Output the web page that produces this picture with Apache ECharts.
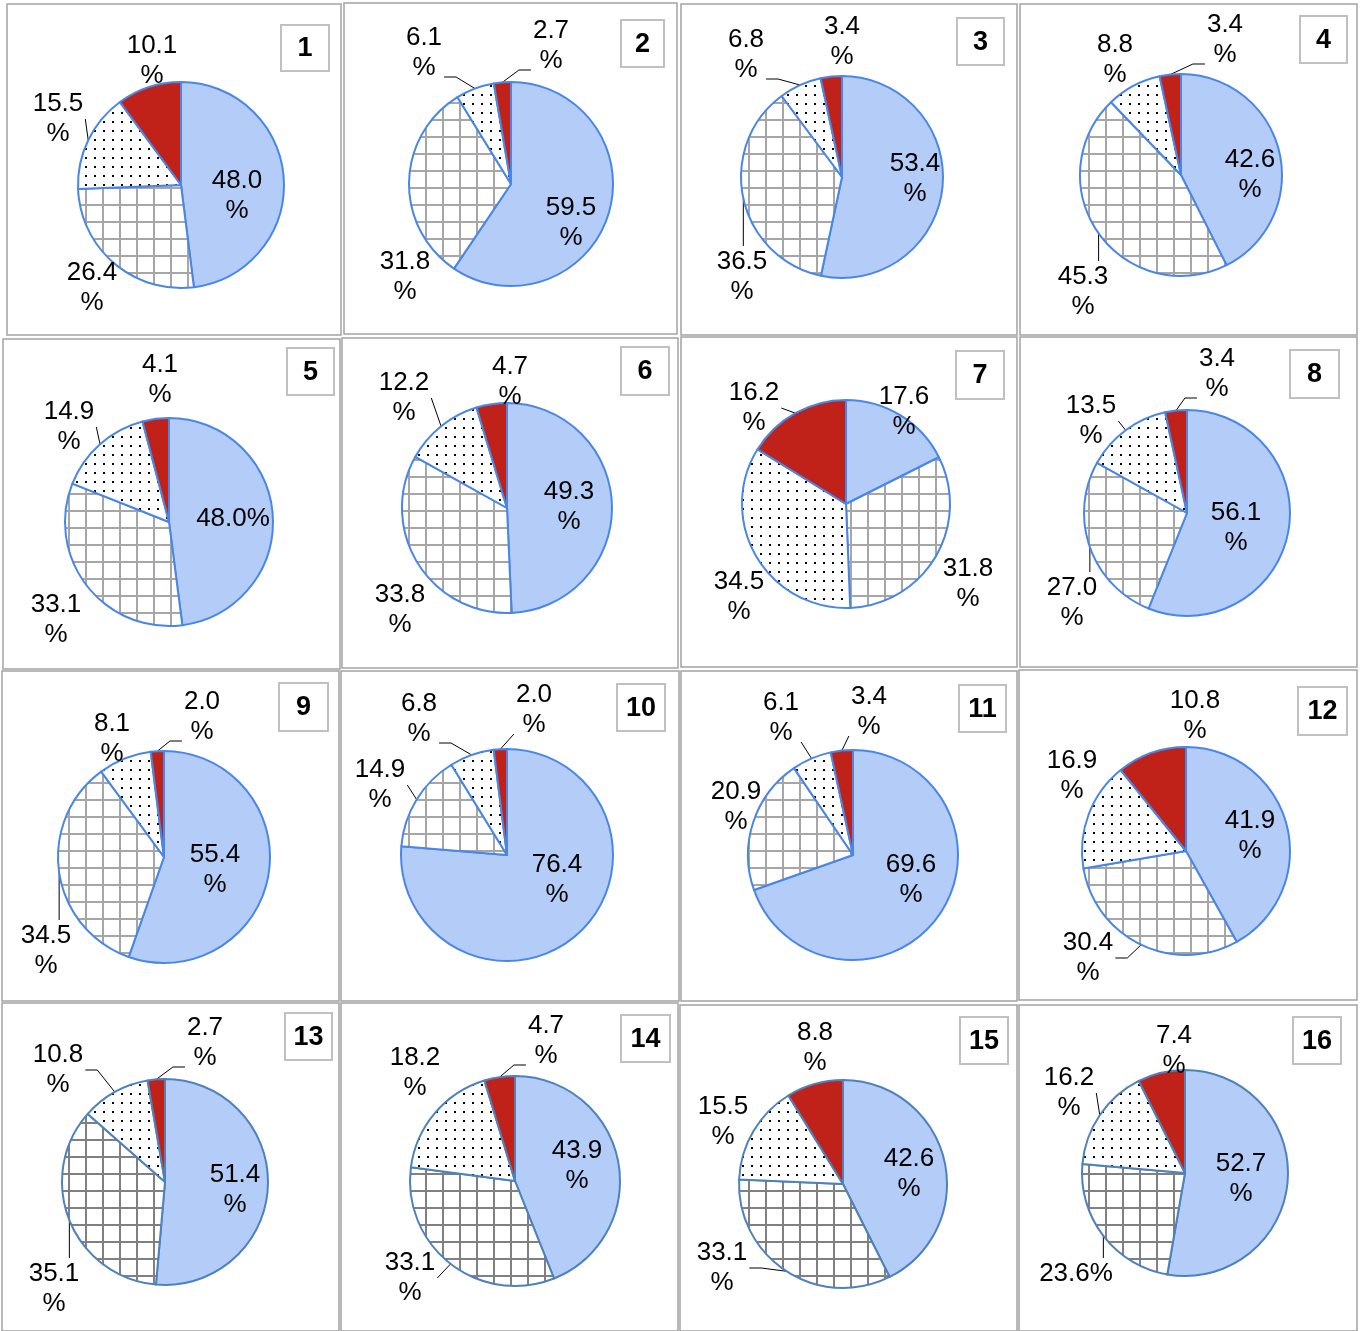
<!DOCTYPE html>
<html><head><meta charset="utf-8">
<script src="https://cdn.jsdelivr.net/npm/echarts/dist/echarts.min.js"></script>
<style>html,body{margin:0;padding:0;background:#fff}#c{width:1361px;height:1331px}</style>
</head><body><div id="c"></div><script>
// ---------------- DATA ----------------
const categories = ['Segment A', 'Segment B', 'Segment C', 'Segment D'];
const panelLabels = ['1','2','3','4','5','6','7','8','9','10','11','12','13','14','15','16'];
const panel1  = [48.0, 26.4, 15.5, 10.1];
const panel2  = [59.5, 31.8, 6.1, 2.7];
const panel3  = [53.4, 36.5, 6.8, 3.4];
const panel4  = [42.6, 45.3, 8.8, 3.4];
const panel5  = [48.0, 33.1, 14.9, 4.1];
const panel6  = [49.3, 33.8, 12.2, 4.7];
const panel7  = [17.6, 31.8, 34.5, 16.2];
const panel8  = [56.1, 27.0, 13.5, 3.4];
const panel9  = [55.4, 34.5, 8.1, 2.0];
const panel10 = [76.4, 14.9, 6.8, 2.0];
const panel11 = [69.6, 20.9, 6.1, 3.4];
const panel12 = [41.9, 30.4, 16.9, 10.8];
const panel13 = [51.4, 35.1, 10.8, 2.7];
const panel14 = [43.9, 33.1, 18.2, 4.7];
const panel15 = [42.6, 33.1, 15.5, 8.8];
const panel16 = [52.7, 23.6, 16.2, 7.4];
const panels = [panel1,panel2,panel3,panel4,panel5,panel6,panel7,panel8,panel9,panel10,panel11,panel12,panel13,panel14,panel15,panel16];

// ---------------- LAYOUT / STYLE ----------------
const PIE_CENTER = [[181,185],[511,184],[842,177],[1181,175],[169,522],[507,508],[846,504],[1187,513],
  [164,857],[507,855],[853,855],[1186,851],[165,1182],[515,1181],[843,1184],[1185,1173]];
const PIE_R = [103,102,101,101,104,105,104,103,106,106,105,104,103,105,104,103];
const LABEL_POS = [
  [[237,196],[92,288],[58,119],[152,61]],
  [[571,223],[405,277],[424,53],[551,46]],
  [[915,179],[742,277],[746,55],[842,42]],
  [[1250,175],[1083,292],[1115,60],[1225,40]],
  [[233,519],[56,620],[69,427],[160,380]],
  [[569,507],[400,610],[404,398],[510,382]],
  [[904,412],[968,584],[739,597],[754,408]],
  [[1236,528],[1072,603],[1091,421],[1217,374]],
  [[215,870],[46,951],[112,739],[202,717]],
  [[557,880],[380,785],[419,719],[534,710]],
  [[911,880],[736,807],[781,718],[869,712]],
  [[1250,836],[1088,958],[1072,776],[1195,716]],
  [[235,1190],[54,1289],[58,1070],[205,1043]],
  [[577,1166],[410,1278],[415,1073],[546,1041]],
  [[909,1174],[722,1268],[723,1122],[815,1048]],
  [[1241,1179],[1076,1274],[1069,1093],[1174,1051]]
];
const LEADER = [
  [0,0,1,0],[0,0,1,1],[0,1,1,0],[0,1,0,1],
  [0,0,1,0],[0,0,1,0],[0,0,0,1],[0,1,1,1],
  [0,1,0,1],[0,1,1,1],[0,0,1,1],[0,1,0,0],
  [0,1,1,1],[0,1,0,1],[0,1,0,0],[0,1,1,0]
];
const SINGLE_LINE = { '4': [0], '15': [1] };
const CELLS = [[7,4,341,335],[344,3,677,334],[681,4,1017,335],[1020,4,1357,335],
  [3,339,340,669],[342,338,678,668],[681,337,1017,667],[1020,337,1357,667],
  [2,671,339,1001],[341,671,679,1001],[681,671,1017,1001],[1019,670,1357,1000],
  [2,1003,339,1331],[341,1003,678,1331],[680,1005,1017,1331],[1019,1005,1357,1331]];
const BOXES = [[281,25,329,71],[621,20,664,67],[957,18,1004,65],[1300,16,1347,63],
  [287,348,334,395],[621,347,669,395],[956,351,1004,399],[1290,350,1339,398],
  [279,683,328,731],[617,684,665,731],[959,685,1006,732],[1298,687,1347,735],
  [285,1013,332,1060],[621,1015,670,1062],[960,1017,1008,1064],[1293,1017,1341,1064]];

const FONT = '"Liberation Sans", Arial, sans-serif';
const BLUE = '#b3cdf8';
const RED = '#c0221a';

function gridPattern(color) {
  const c = document.createElement('canvas'); c.width = 17; c.height = 17;
  const g = c.getContext('2d'); g.fillStyle = '#fff'; g.fillRect(0, 0, 17, 17);
  g.fillStyle = color; g.fillRect(0, 0, 2, 17); g.fillRect(0, 0, 17, 2);
  return c;
}
function dotPattern() {
  const c = document.createElement('canvas'); c.width = 9; c.height = 9;
  const g = c.getContext('2d'); g.fillStyle = '#fff'; g.fillRect(0, 0, 9, 9);
  g.fillStyle = '#000'; g.fillRect(4, 4, 2, 2);
  return c;
}
const gridLight = gridPattern('#a6a6a6');
const gridDark = gridPattern('#808080');
const dots = dotPattern();

function makeLayout(ci, values) {
  return function (params) {
    const k = params.dataIndex;
    const pos = LABEL_POS[ci][k];
    const out = { x: pos[0], y: pos[1], align: 'center', verticalAlign: 'middle' };
    if (LEADER[ci][k]) {
      let a = params.labelLinePoints && params.labelLinePoints[0];
      if (!a) {
        const tot = values.reduce((s, v) => s + v, 0);
        let cum = 0; for (let i = 0; i < k; i++) cum += values[i];
        const th = (cum + values[k] / 2) / tot * Math.PI * 2;
        a = [PIE_CENTER[ci][0] + PIE_R[ci] * Math.sin(th), PIE_CENTER[ci][1] - PIE_R[ci] * Math.cos(th)];
      }
      const w = params.labelRect.width, h = params.labelRect.height;
      const x0 = pos[0] - w / 2 - 2, x1 = pos[0] + w / 2 + 2, top = pos[1] - h / 2;
      let pts;
      if (a[0] >= x0 && a[0] <= x1 && a[1] < top) {
        pts = [[a[0], a[1]], [a[0], top - 1], [a[0], top - 1]];
      } else {
        const right = a[0] > pos[0];
        const side = right ? x1 : x0;
        const dir = right ? 1 : -1;
        const y = (a[1] - pos[1] > 29) ? pos[1] + h / 2 - 6 : pos[1];
        const e = Math.abs(a[0] - side) > 20 ? 12 : 0;
        pts = [[a[0], a[1]], [side + dir * e, y], [side, y]];
      }
      out.labelLinePoints = pts;
    }
    return out;
  };
}

const series = panels.map((values, ci) => {
  const dark = ci >= 12;
  const edge = dark ? '#4f81bd' : '#4a86e8';
  const fills = [BLUE, { image: dark ? gridDark : gridLight, repeat: 'repeat' }, { image: dots, repeat: 'repeat' }, RED];
  const single = SINGLE_LINE[String(ci)] || [];
  return {
    type: 'pie',
    name: panelLabels[ci],
    center: PIE_CENTER[ci],
    radius: PIE_R[ci],
    startAngle: 90,
    clockwise: true,
    avoidLabelOverlap: false,
    silent: true,
    animation: false,
    emphasis: { disabled: true, scale: false },
    label: {
      show: true, position: 'outside', color: '#000', fontFamily: FONT,
      fontSize: 26, lineHeight: 30, overflow: 'none',
      formatter: p => {
        const v = Number(p.value).toFixed(1);
        return single.indexOf(p.dataIndex) >= 0 ? v + '%' : v + '\n%';
      }
    },
    labelLine: { show: true, length: 8, length2: 8, lineStyle: { color: '#000', width: 1 } },
    labelLayout: makeLayout(ci, values),
    data: values.map((v, i) => ({
      name: categories[i],
      value: v,
      itemStyle: { color: fills[i], borderColor: edge, borderWidth: 2 },
      labelLine: { show: !!LEADER[ci][i], lineStyle: { color: '#000', width: 1 } }
    }))
  };
});

const graphics = [];
CELLS.forEach(c => graphics.push({
  type: 'rect', silent: true, z: 0,
  shape: { x: c[0], y: c[1], width: c[2] - c[0], height: c[3] - c[1] },
  style: { fill: 'none', stroke: '#a3a3a3', lineWidth: 1.5 }
}));
BOXES.forEach((b, i) => {
  graphics.push({
    type: 'rect', silent: true, z: 5,
    shape: { x: b[0], y: b[1], width: b[2] - b[0], height: b[3] - b[1] },
    style: { fill: '#fff', stroke: '#c0c0c0', lineWidth: 2 }
  });
  graphics.push({
    type: 'text', silent: true, z: 6,
    x: (b[0] + b[2]) / 2, y: (b[1] + b[3]) / 2 + 1,
    style: { text: panelLabels[i], fill: '#000', fontFamily: FONT, fontWeight: 'bold', fontSize: 27,
      align: 'center', verticalAlign: 'middle' }
  });
});

const chart = echarts.init(document.getElementById('c'), null, { renderer: 'canvas' });
chart.setOption({
  backgroundColor: '#fff',
  animation: false,
  graphic: { elements: graphics },
  series: series
});
</script></body></html>
